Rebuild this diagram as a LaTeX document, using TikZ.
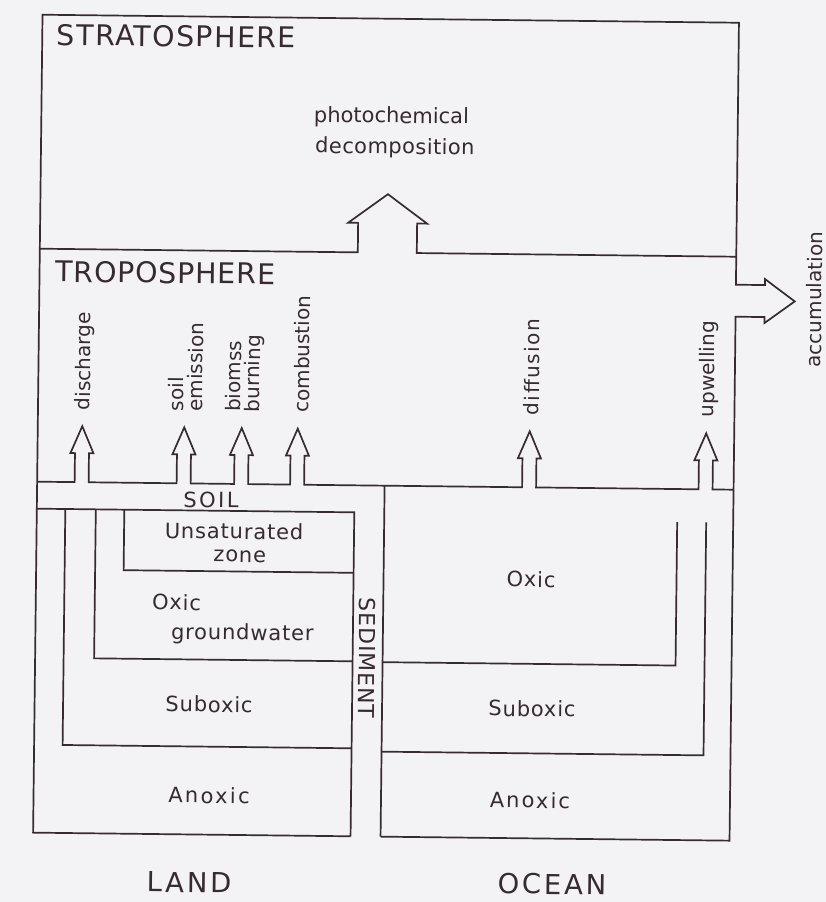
\documentclass[tikz,border=0pt]{standalone}
\usepackage{fontspec}
\setmainfont{DejaVu Sans}
\definecolor{ink}{RGB}{55,42,48}
\definecolor{paper}{RGB}{243,243,245}
\begin{document}
\begin{tikzpicture}[x=1pt,y=-1pt,
  ln/.style={draw=ink,line width=1.7pt,line join=miter},
  big/.style={text=ink,inner sep=0pt,anchor=base west,font=\fontsize{28.5}{30}\selectfont\addfontfeatures{LetterSpace=4.8}},
  lbl/.style={text=ink,inner sep=0pt,anchor=base,font=\fontsize{21}{24}\selectfont},
  reg/.style={text=ink,inner sep=0pt,anchor=base,font=\fontsize{21}{24}\selectfont\addfontfeatures{LetterSpace=4}},
  flux/.style={text=ink,inner sep=0pt,rotate=90,anchor=west,align=left,font=\fontsize{20}{19}\selectfont},
  caps/.style={text=ink,inner sep=0pt,anchor=base}
]
\fill[paper] (0,0) rectangle (826,902);
\useasboundingbox (0,0) rectangle (826,902);
\begin{scope}[rotate around={-0.66:(413,451)}, transform shape]
% outer frame with accumulation arrow
\draw[ln] (355,837) -- (37.5,837) -- (37.5,19) -- (734,19) -- (734,281) -- (763,281) -- (763,275) -- (793,297) -- (763,319) -- (763,313) -- (734,313) -- (734,837) -- (385,837);
% stratosphere / troposphere boundary with photochemical arrow
\draw[ln] (37.5,253) -- (355.5,253) -- (355.5,223.5) -- (345.5,223.5) -- (385,194.5) -- (424.5,223.5) -- (414.5,223.5) -- (414.5,253) -- (734,253);
% soil / ocean top with flux arrows
\draw[ln] (37.5,486)
  -- (75,486) -- (75,457) -- (70.5,457) -- (82,430) -- (93.5,457) -- (89,457) -- (89,486)
  -- (177,486) -- (177,457) -- (172.5,457) -- (184,430) -- (195.5,457) -- (191,457) -- (191,486)
  -- (234.5,486) -- (234.5,457) -- (230,457) -- (241.5,430) -- (253,457) -- (248.5,457) -- (248.5,486)
  -- (290.5,486) -- (290.5,457) -- (286,457) -- (297.5,430) -- (309,457) -- (304.5,457) -- (304.5,486)
  -- (522.5,486) -- (522.5,457) -- (518,457) -- (529.5,430) -- (541,457) -- (536.5,457) -- (536.5,486)
  -- (699,486) -- (699,457) -- (694.5,457) -- (706,430) -- (717.5,457) -- (713,457) -- (713,486)
  -- (734,486);
% soil bottom and sediment
\draw[ln] (37.5,513) -- (355,513) -- (355,837);
\draw[ln] (385,486) -- (385,837);
% land layers
\draw[ln] (125,513) -- (125,573.5) -- (355,573.5);
\draw[ln] (96.5,513) -- (96.5,662) -- (355,662);
\draw[ln] (66,513) -- (66,749) -- (355,749);
% ocean layers
\draw[ln] (385,662.5) -- (678,662.5) -- (678,519);
\draw[ln] (385,752) -- (707,752) -- (707,519);
% texts
\node[big] (strat) at (52,49.4) {STRATOSPHERE};
\node[big,font=\fontsize{28.5}{30}\selectfont\addfontfeatures{LetterSpace=3}] (tropo) at (53,286) {TROPOSPHERE};
\node[lbl] (photo) at (387.6,123.3) {photochemical};
\node[lbl,font=\fontsize{21}{24}\selectfont\addfontfeatures{LetterSpace=2}] (decomp) at (391.4,154) {decomposition};
\node[flux] (dis) at (84,414) {discharge};
\node[flux] (soilem) at (185,414) {soil\\emission};
\node[flux] (bio) at (244,414) {biomss\\burning};
\node[flux] (comb) at (301,414) {combustion};
\node[flux,font=\fontsize{20}{19}\selectfont\addfontfeatures{LetterSpace=7.5}] (diff) at (531,414) {diffusion};
\node[flux] (upw) at (708,414) {upwelling};
\node[flux,anchor=base] (acc) at (820,295) {accumulation};
\node[caps,font=\fontsize{21}{24}\selectfont\addfontfeatures{LetterSpace=12}] (soil) at (211.6,510) {SOIL};
\node[reg] (unsat) at (235,541) {Unsaturated};
\node[reg] (zone) at (241,564) {zone};
\node[reg,anchor=base west] (oxicl) at (153.7,612.7) {Oxic};
\node[reg] (gw) at (244.5,642) {groundwater};
\node[reg] (subl) at (212,714.5) {Suboxic};
\node[reg,font=\fontsize{21}{24}\selectfont\addfontfeatures{LetterSpace=11}] (anl) at (213,805.5) {Anoxic};
\node[caps,font=\fontsize{27.5}{30}\selectfont\addfontfeatures{LetterSpace=10}] (land) at (194,895) {LAND};
\node[caps,rotate=-90,anchor=center,font=\fontsize{22}{24}\selectfont\addfontfeatures{LetterSpace=4}] (sed) at (369.5,658.5) {SEDIMENT};
\node[reg] (oxo) at (532.5,585.6) {Oxic};
\node[reg] (subo) at (535,715) {Suboxic};
\node[reg,font=\fontsize{21}{24}\selectfont\addfontfeatures{LetterSpace=10}] (ano) at (534,806.7) {Anoxic};
\node[caps,font=\fontsize{27.5}{30}\selectfont\addfontfeatures{LetterSpace=10}] (ocean) at (557,892.5) {OCEAN};
\end{scope}
\end{tikzpicture}
\end{document}
